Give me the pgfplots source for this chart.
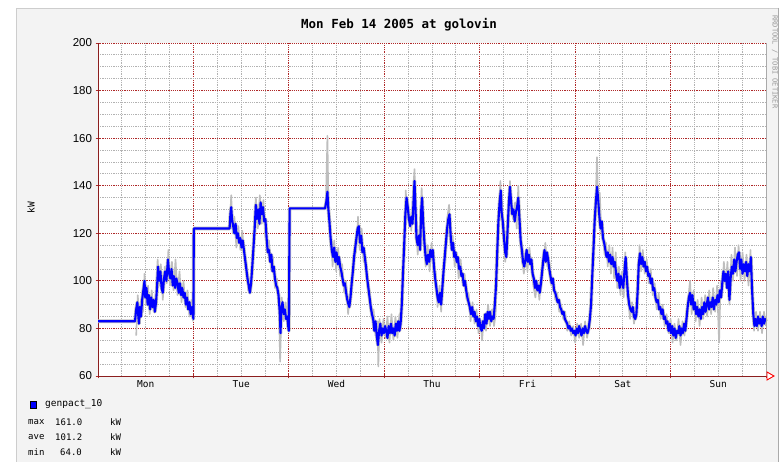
\documentclass[border=0pt]{standalone}
\usepackage{pgfplots}
\pgfplotsset{compat=1.18}
\usepackage{pgfplotstable}
\usepackage{fontspec}
\setmainfont{Liberation Sans}
\newfontfamily\monofont{DejaVu Sans Mono}
\definecolor{bggray}{RGB}{243,243,243}
\definecolor{framegray}{RGB}{205,205,205}
\definecolor{shadegray}{RGB}{170,170,170}
\definecolor{mgrid}{RGB}{175,40,40}
\definecolor{axisred}{RGB}{140,30,30}
\definecolor{rangegray}{RGB}{190,190,190}
\definecolor{rrdblue}{RGB}{0,0,255}

\pgfplotstableread[row sep=\\]{x y\\
0 83\\ 9.3 83\\ 9.6 88\\ 9.9 91\\ 10.1 86\\ 10.3 82\\ 10.5 89\\ 10.8 85\\ 11.1 92\\ 11.4 96\\ 11.7 100\\ 11.9 93\\ 12.2 97\\ 12.5 90\\ 12.8 94\\ 13.1 88\\ 13.4 93\\ 13.7 89\\ 14.0 92\\ 14.3 87\\ 14.6 91\\ 14.9 99\\ 15.1 106\\ 15.4 100\\ 15.7 104\\ 16.0 97\\ 16.3 95\\ 16.6 101\\ 16.9 104\\ 17.2 100\\ 17.6 109\\ 17.9 103\\ 18.2 101\\ 18.5 105\\ 18.8 98\\ 19.1 102\\ 19.4 97\\ 19.7 101\\ 20.0 99\\ 20.3 95\\ 20.6 99\\ 20.9 94\\ 21.2 97\\ 21.5 93\\ 21.8 95\\ 22.1 90\\ 22.4 93\\ 22.7 88\\ 23.0 91\\ 23.3 86\\ 23.6 89\\ 23.9 85\\ 24.0 84\\ 24.1 122\\ 33.1 122\\
33.3 128\\ 33.5 131\\ 33.7 126\\ 34.0 123\\ 34.3 120\\ 34.6 124\\ 34.9 118\\ 35.2 120\\ 35.5 116\\ 35.8 118\\ 36.1 114\\ 36.4 117\\ 36.7 113\\ 37.0 109\\ 37.3 105\\ 37.6 101\\ 37.9 98\\ 38.2 95\\ 38.5 99\\ 38.8 106\\ 39.1 114\\ 39.4 122\\ 39.7 132\\ 40.0 126\\ 40.3 130\\ 40.6 124\\ 40.9 133\\ 41.2 128\\ 41.5 131\\ 41.8 125\\ 42.1 126\\ 42.4 118\\ 42.7 112\\ 43.0 113\\ 43.3 108\\ 43.6 111\\ 43.9 104\\ 44.2 106\\ 44.5 101\\ 44.8 98\\ 45.1 97\\ 45.4 94\\ 45.7 87\\ 45.9 78\\ 46.1 88\\ 46.4 91\\ 46.7 86\\ 47.0 88\\ 47.3 84\\ 47.6 85\\ 47.9 80\\ 48.0 79\\ 48.1 108\\ 48.2 130.5\\ 57.1 130.5\\
57.4 133\\ 57.7 137.5\\ 57.9 131\\ 58.2 125\\ 58.5 118\\ 58.8 113\\ 59.1 110\\ 59.4 114\\ 59.7 108\\ 60.0 112\\ 60.3 107\\ 60.6 110\\ 60.9 106\\ 61.2 104\\ 61.5 101\\ 61.8 98\\ 62.1 99\\ 62.4 95\\ 62.7 92\\ 63.0 90\\ 63.2 89\\ 63.5 93\\ 63.8 99\\ 64.1 104\\ 64.4 110\\ 64.7 114\\ 65.0 118\\ 65.3 122\\ 65.6 123\\ 65.9 116\\ 66.2 119\\ 66.5 112\\ 66.8 114\\ 67.1 110\\
67.4 106\\ 67.7 101\\ 68.0 97\\ 68.3 93\\ 68.6 89\\ 68.9 86\\ 69.2 84\\ 69.5 79\\ 69.8 83\\ 70.1 77\\ 70.4 73\\ 70.7 79\\ 71.0 82\\ 71.3 77\\ 71.6 80\\ 71.9 78\\ 72.2 81\\ 72.5 79\\ 72.8 76\\ 73.1 81\\ 73.4 78\\ 73.7 82\\ 74.0 78\\ 74.3 80\\ 74.6 77\\ 74.9 82\\ 75.2 79\\ 75.5 83\\ 75.8 79\\ 76.1 82\\ 76.4 90\\ 76.7 103\\ 77.0 115\\ 77.3 128\\ 77.6 135\\ 77.9 131\\ 78.2 126\\ 78.5 123\\ 78.8 127\\ 79.1 124\\ 79.4 135\\ 79.6 142\\ 79.9 128\\ 80.1 118\\ 80.4 115\\ 80.7 119\\ 81.0 113\\ 81.3 130\\ 81.5 135\\ 81.8 124\\ 82.1 116\\ 82.4 110\\ 82.7 107\\ 83.0 111\\ 83.3 108\\ 83.6 113\\ 83.9 110\\ 84.2 113\\ 84.5 106\\ 84.8 101\\ 85.1 97\\ 85.4 93\\ 85.7 91\\ 86.0 95\\ 86.3 90\\ 86.6 97\\ 86.9 104\\ 87.2 110\\ 87.5 116\\ 87.8 122\\ 88.1 126\\ 88.4 128\\ 88.7 119\\ 89.0 113\\ 89.3 116\\ 89.6 110\\ 89.9 112\\ 90.2 108\\ 90.5 110\\ 90.8 105\\ 91.1 106\\ 91.4 102\\ 91.7 103\\ 92.0 98\\ 92.3 100\\ 92.6 96\\ 92.9 93\\ 93.2 91\\ 93.5 89\\ 93.8 86\\ 94.1 89\\ 94.4 85\\ 94.7 87\\ 95.0 83\\ 95.3 85\\ 95.6 81\\ 95.9 84\\ 96.2 80\\ 96.5 79\\ 96.8 83\\ 97.1 80\\ 97.4 86\\ 97.7 82\\ 98.0 87\\ 98.3 84\\ 98.6 87\\ 98.9 83\\ 99.2 85\\ 99.5 84\\
99.8 90\\ 100.1 98\\ 100.4 112\\ 100.7 125\\ 101.0 133\\ 101.3 138\\ 101.5 129\\ 101.8 125\\ 102.1 118\\ 102.4 112\\ 102.7 110\\ 103.0 121\\ 103.3 132\\ 103.6 139.6\\ 103.9 133\\ 104.2 128\\ 104.5 130\\ 104.8 125\\ 105.1 129\\ 105.4 131\\ 105.7 135\\ 106.0 126\\ 106.3 117\\ 106.6 113\\ 106.9 108\\ 107.2 106\\ 107.5 109\\ 107.8 113\\ 108.1 108\\ 108.4 111\\ 108.7 107\\ 109.0 109\\ 109.3 103\\ 109.6 101\\ 109.9 97\\ 110.2 100\\ 110.5 96\\ 110.8 98\\ 111.1 95\\ 111.4 99\\ 111.7 104\\ 112.0 109\\ 112.3 113\\ 112.6 108\\ 112.9 112\\ 113.2 109\\ 113.5 105\\ 113.8 102\\ 114.1 99\\ 114.4 101\\ 114.7 96\\ 115.0 95\\ 115.3 93\\ 115.6 91\\ 115.9 92\\ 116.2 89\\ 116.5 88\\ 116.8 86\\ 117.1 87\\ 117.4 84\\ 117.7 83\\ 118.0 82\\ 118.3 80\\ 118.6 81\\ 118.9 79\\ 119.2 80\\ 119.5 78\\ 119.8 79\\ 120.1 77\\ 120.4 80\\ 120.7 78\\ 121.0 81\\ 121.3 79\\ 121.6 77\\ 121.9 80\\ 122.2 78\\ 122.5 81\\ 122.8 79\\ 123.1 78\\ 123.4 80\\ 123.7 84\\
124.0 90\\ 124.3 102\\ 124.6 113\\ 124.9 125\\ 125.2 133\\ 125.5 139.6\\ 125.8 134\\ 126.1 127\\ 126.4 122\\ 126.7 125\\ 127.0 118\\ 127.3 116\\ 127.6 113\\ 127.9 110\\ 128.2 112\\ 128.5 108\\ 128.8 111\\ 129.1 107\\ 129.4 110\\ 129.7 106\\ 130.0 108\\ 130.3 103\\ 130.6 100\\ 130.9 103\\ 131.2 97\\ 131.5 102\\ 131.8 99\\ 132.1 97\\ 132.4 104\\ 132.7 110\\ 133.0 101\\ 133.3 94\\ 133.6 90\\ 133.9 88\\ 134.2 87\\ 134.5 89\\ 134.8 85\\ 135.1 84\\ 135.4 86\\ 135.7 95\\ 136.0 107\\ 136.3 111.6\\ 136.6 107\\ 136.9 110\\ 137.2 106\\ 137.5 108\\ 137.8 104\\ 138.1 106\\ 138.4 102\\ 138.7 103\\ 139.0 99\\ 139.3 101\\ 139.6 96\\ 139.9 97\\ 140.2 93\\ 140.5 91\\ 140.8 92\\ 141.1 88\\ 141.4 89\\ 141.7 86\\ 142.0 88\\ 142.3 84\\ 142.6 85\\ 142.9 82\\ 143.2 83\\ 143.5 79\\ 143.8 82\\ 144.1 78\\ 144.4 81\\ 144.7 77\\ 145.0 80\\ 145.3 76\\ 145.6 79\\ 145.9 78\\ 146.2 81\\ 146.5 77\\ 146.8 80\\ 147.1 78\\ 147.4 82\\ 147.7 79\\ 148.0 84\\ 148.3 89\\ 148.6 93\\ 148.9 95\\ 149.2 90\\ 149.5 94\\ 149.8 88\\ 150.1 91\\ 150.4 86\\ 150.7 89\\ 151.0 85\\ 151.3 88\\ 151.6 84\\ 151.9 89\\ 152.2 86\\ 152.5 91\\ 152.8 87\\ 153.1 90\\ 153.4 93\\ 153.7 88\\ 154.0 91\\ 154.3 89\\ 154.6 93\\ 154.9 88\\ 155.2 92\\ 155.5 90\\ 155.8 94\\ 156.1 91\\ 156.4 96\\ 156.7 93\\ 157.0 99\\ 157.3 104\\ 157.6 100\\ 157.9 103\\ 158.2 97\\ 158.5 104\\ 158.8 92\\ 159.1 101\\ 159.4 106\\ 159.7 103\\ 160.0 109\\ 160.3 104\\ 160.6 108\\ 160.9 111\\ 161.2 112\\ 161.5 105\\ 161.8 109\\ 162.1 103\\ 162.4 107\\ 162.7 104\\ 163.0 108\\ 163.3 102\\ 163.6 107\\ 163.9 104\\ 164.2 110\\ 164.5 96\\ 164.8 86\\ 165.1 81\\ 165.4 84\\ 165.7 81\\ 166.0 85\\ 166.3 82\\ 166.6 84\\ 166.9 81\\ 167.2 85\\ 167.5 82\\ 167.8 84\\ 168.0 83\\
}\bluedata

\pgfplotstableread[row sep=\\]{x y\\
9.6 77\\ 10.0 94\\ 10.4 84\\ 10.8 92\\ 11.3 87\\ 11.7 103\\ 12.1 90\\ 12.6 98\\ 13.0 86\\ 13.5 96\\ 14.0 87\\ 14.5 94\\ 15.0 109\\ 15.4 98\\ 15.8 107\\ 16.3 92\\ 16.8 106\\ 17.3 99\\ 17.7 113\\ 18.1 98\\ 18.6 108\\ 19.0 96\\ 19.5 109\\ 20.0 94\\ 20.5 104\\ 21.0 91\\ 21.5 100\\ 22.0 89\\ 22.5 96\\ 23.0 85\\ 23.5 92\\ 23.9 83\\
}\grayA

\pgfplotstableread[row sep=\\]{x y\\
33.2 125\\ 33.5 136\\ 33.9 120\\ 34.3 127\\ 34.8 114\\ 35.3 123\\ 35.8 113\\ 36.3 121\\ 36.8 110\\ 37.3 108\\ 37.8 96\\ 38.3 100\\ 38.8 103\\ 39.3 125\\ 39.7 135\\ 40.2 122\\ 40.7 136\\ 41.2 124\\ 41.6 134\\ 42.0 120\\ 42.5 113\\ 43.0 117\\ 43.5 105\\ 44.0 110\\ 44.5 97\\ 45.0 101\\ 45.5 90\\ 45.8 66\\ 46.2 93\\ 46.7 83\\ 47.2 91\\ 47.7 80\\ 48.0 82\\
}\grayB

\pgfplotstableread[row sep=\\]{x y\\
57.3 131\\ 57.7 161\\ 58.0 126\\ 58.5 121\\ 59.0 106\\ 59.4 117\\ 59.9 104\\ 60.4 114\\ 60.9 102\\ 61.4 107\\ 61.9 95\\ 62.4 100\\ 62.9 86\\ 63.4 95\\ 63.9 97\\ 64.4 113\\ 64.9 112\\ 65.4 127\\ 65.8 113\\ 66.3 122\\ 66.8 108\\ 67.3 109\\ 67.8 97\\ 68.3 96\\ 68.8 84\\ 69.3 88\\ 69.8 77\\ 70.3 83\\ 70.5 64\\ 70.8 84\\ 71.3 74\\ 71.8 84\\ 72.3 76\\ 72.8 85\\ 73.3 74\\ 73.8 86\\ 74.3 75\\ 74.8 85\\ 75.3 76\\ 75.8 86\\ 76.2 80\\ 76.6 104\\ 77.0 112\\ 77.4 138\\ 77.8 126\\ 78.3 130\\ 78.8 121\\ 79.2 137\\ 79.6 147\\ 80.0 123\\ 80.4 111\\ 80.9 122\\ 81.4 139\\ 81.9 119\\ 82.4 106\\ 82.9 115\\ 83.4 104\\ 83.9 116\\ 84.4 103\\ 84.9 104\\ 85.4 89\\ 85.9 98\\ 86.3 87\\ 86.8 106\\ 87.3 107\\ 87.8 126\\ 88.3 132\\ 88.7 115\\ 89.2 119\\ 89.7 106\\ 90.2 112\\ 90.7 101\\ 91.2 109\\ 91.7 99\\ 92.2 103\\ 92.7 92\\ 93.2 95\\ 93.7 83\\ 94.2 91\\ 94.7 82\\ 95.2 88\\ 95.7 78\\ 96.2 83\\ 96.6 75\\ 97.1 86\\ 97.6 79\\ 98.1 90\\ 98.6 81\\ 99.1 88\\ 99.6 81\\
100.0 86\\ 100.4 109\\ 100.8 129\\ 101.2 142\\ 101.6 124\\ 102.0 121\\ 102.4 108\\ 102.8 114\\ 103.3 126\\ 103.6 142\\ 104.0 129\\ 104.4 126\\ 104.9 133\\ 105.3 122\\ 105.7 140\\ 106.1 121\\ 106.6 109\\ 107.1 103\\ 107.6 112\\ 108.0 104\\ 108.5 114\\ 109.0 105\\ 109.5 98\\ 110.0 93\\ 110.5 100\\ 111.0 92\\ 111.5 102\\ 112.0 106\\ 112.5 116\\ 113.0 106\\ 113.5 108\\ 114.0 98\\ 114.5 100\\ 115.0 92\\ 115.5 95\\ 116.0 87\\ 116.5 90\\ 117.0 84\\ 117.5 87\\ 118.0 79\\ 118.5 83\\ 119.0 77\\ 119.5 81\\ 120.0 74\\ 120.5 82\\ 121.0 76\\ 121.5 82\\ 122.0 73\\ 122.5 83\\ 123.0 76\\ 123.5 82\\
124.0 86\\ 124.4 108\\ 124.8 120\\ 125.2 136\\ 125.5 152\\ 125.8 130\\ 126.2 137\\ 126.6 119\\ 127.0 121\\ 127.4 111\\ 127.8 116\\ 128.2 106\\ 128.6 115\\ 129.0 103\\ 129.4 114\\ 129.8 101\\ 130.2 112\\ 130.6 97\\ 131.0 106\\ 131.4 94\\ 131.8 104\\ 132.2 93\\ 132.6 112\\ 133.0 97\\ 133.4 91\\ 133.8 84\\ 134.3 91\\ 134.8 82\\ 135.3 88\\ 135.8 91\\ 136.2 115\\ 136.6 104\\ 137.0 113\\ 137.5 103\\ 138.0 109\\ 138.5 99\\ 139.0 105\\ 139.5 94\\ 140.0 99\\ 140.5 88\\ 141.0 95\\ 141.5 84\\ 142.0 90\\ 142.5 81\\ 143.0 86\\ 143.5 78\\ 144.0 84\\ 144.5 74\\ 145.0 82\\ 145.5 75\\ 146.0 84\\ 146.5 73\\ 147.0 83\\ 147.5 77\\ 148.0 87\\ 148.4 92\\ 148.9 100\\ 149.3 86\\ 149.8 96\\ 150.3 83\\ 150.8 92\\ 151.3 81\\ 151.8 93\\ 152.2 84\\ 152.7 94\\ 153.2 85\\ 153.7 96\\ 154.2 86\\ 154.7 97\\ 155.2 87\\ 155.7 98\\ 156.2 74\\ 156.6 100\\ 157.0 96\\ 157.4 108\\ 157.9 98\\ 158.3 108\\ 158.8 90\\ 159.3 111\\ 159.7 100\\ 160.2 114\\ 160.7 102\\ 161.1 115\\ 161.6 100\\ 162.1 112\\ 162.6 100\\ 163.1 111\\ 163.6 98\\ 164.1 113\\ 164.6 92\\ 165.0 79\\ 165.5 87\\ 166.0 79\\ 166.5 87\\ 167.0 78\\ 167.5 87\\ 168.0 81\\
}\grayC

\begin{document}
\begin{tikzpicture}[x=1pt,y=1pt]
% background and frame
\fill[white] (0,0) rectangle (782,462);
\fill[bggray] (16,0) rectangle (779,454);
\draw[framegray, line width=1pt] (16.5,0) -- (16.5,453.5) -- (779,453.5);
\draw[shadegray, line width=1.2pt] (778.5,454) -- (778.5,0);
\fill[white] (98,86) rectangle (766,419);

\begin{axis}[
  at={(98pt,86pt)}, anchor=south west,
  scale only axis, width=668pt, height=333pt,
  xmin=0, xmax=168, ymin=60, ymax=200,
  axis x line=bottom, axis y line=left,
  axis line style={draw=axisred, line width=0.9pt, -},
  xtick={0,24,...,168}, xticklabels={},
  minor xtick={6,12,...,162},
  ytick={60,80,...,200},
  minor ytick={65,70,...,195},
  grid=both,
  major grid style={mgrid, line width=0.9pt, dash pattern=on 1.1pt off 1.1pt},
  minor grid style={gray!60, line width=0.8pt, dash pattern=on 1.1pt off 1.1pt},
  major tick style={mgrid, line width=0.9pt},
  major tick length=5pt, minor tick length=0pt, tick align=center,
  /pgf/number format/assume math mode=true,
  yticklabel style={font=\fontsize{11.5}{13}\selectfont, xshift=0pt, color=black},
  extra x ticks={12,36,...,156},
  extra x tick labels={Mon,Tue,Wed,Thu,Fri,Sat,Sun},
  extra x tick style={grid=none, major tick length=0pt,
     tick label style={font=\monofont\fontsize{9.5}{11}\selectfont, yshift=-1pt}},
  clip=false,
]
\addplot[rangegray, line width=3.6pt, line join=round] table[x=x,y=y] {\bluedata};
\addplot[rangegray, line width=1.6pt, line join=round] table[x=x,y=y] {\grayA};
\addplot[rangegray, line width=1.6pt, line join=round] table[x=x,y=y] {\grayB};
\addplot[rangegray, line width=1.6pt, line join=round] table[x=x,y=y] {\grayC};
\addplot[rrdblue, line width=2.1pt, line join=round] table[x=x,y=y] {\bluedata};
\end{axis}

% right border of canvas and arrow
\draw[shadegray, line width=0.8pt] (766,86) -- (766,419);
\draw[red, line width=0.9pt, fill=white] (767,82) -- (774,86) -- (767,90) -- cycle;

% title
\node[font=\monofont\bfseries\fontsize{12.5}{14}\selectfont, anchor=base] at (399,433) {Mon Feb 14 2005 at golovin};
% y label
\node[font=\monofont\fontsize{9.5}{11}\selectfont, rotate=90] at (31,254) {kW};
% credit
\node[font=\monofont\fontsize{7}{8}\selectfont, color=gray!80, rotate=-90, anchor=west] at (775,450) {RRDTOOL / TOBI OETIKER};

% legend
\fill[rrdblue] (30,54) rectangle (36.5,60.5);
\draw[black, line width=0.6pt] (30,54) rectangle (36.5,60.5);
\node[font=\monofont\fontsize{9.5}{11}\selectfont, anchor=west, inner sep=0pt] at (45,57.5) {genpact\_10};
\begin{scope}[every node/.style={font=\monofont\fontsize{9}{10}\selectfont, anchor=west, inner sep=0pt}]
\node at (28,39.5) {max};
\node at (55,39.5) {161.0};
\node at (110,39.5) {kW};
\node at (28,24.5) {ave};
\node at (55,24.5) {101.2};
\node at (110,24.5) {kW};
\node at (28,9.5) {min};
\node at (60,9.5) {64.0};
\node at (110,9.5) {kW};
\end{scope}
\end{tikzpicture}
\end{document}
